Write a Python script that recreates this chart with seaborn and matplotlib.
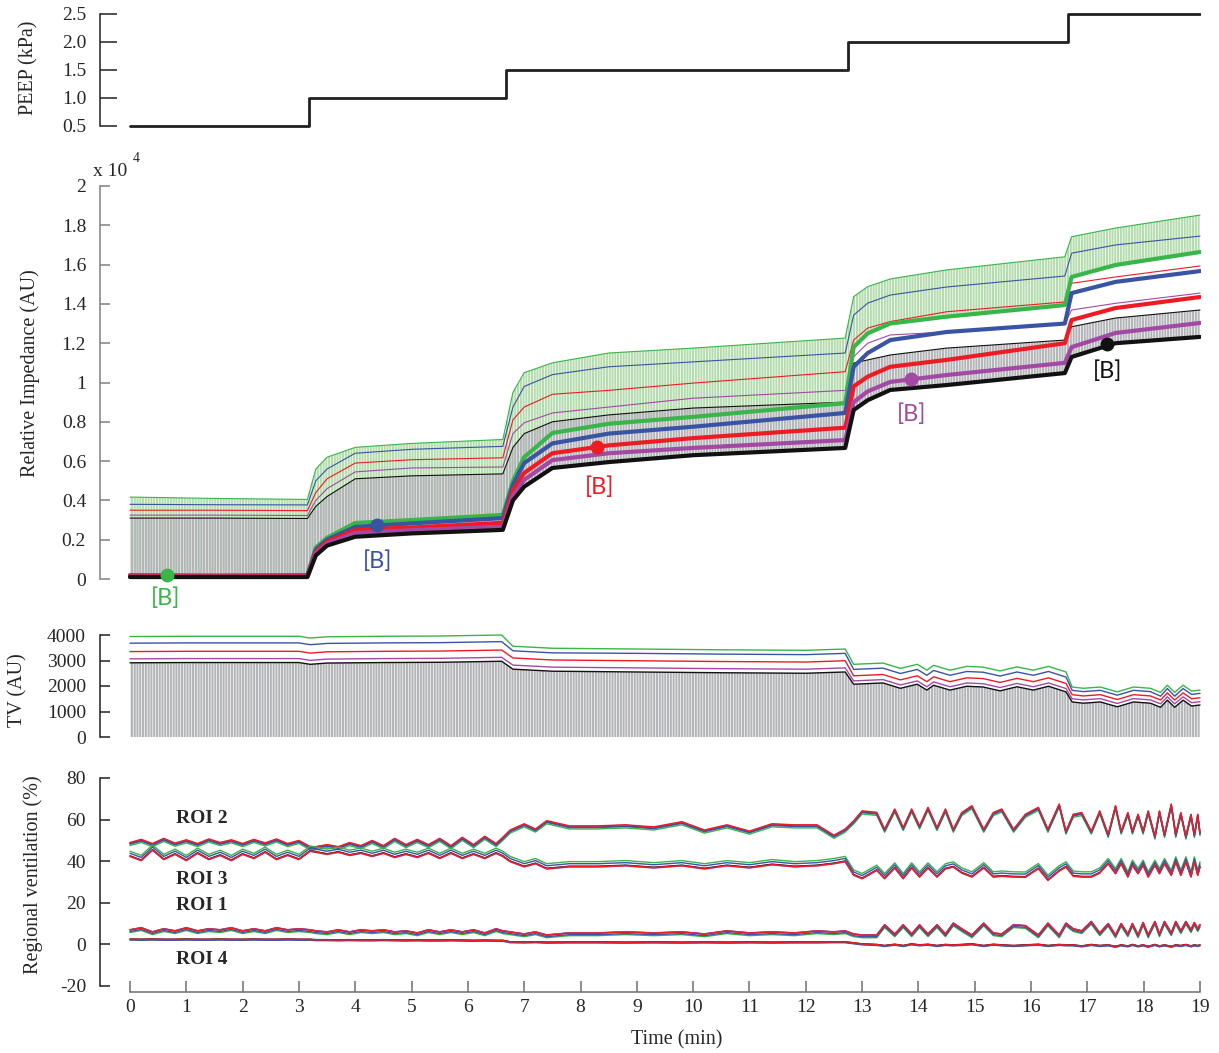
import matplotlib
matplotlib.use("Agg")
import matplotlib.pyplot as plt
import numpy as np
import seaborn as sns

# ---------------- DATA ----------------
# PEEP steps (kPa)
peep_t = [0, 3.18, 6.68, 12.75, 16.66, 19]
peep_v = [0.5, 1.0, 1.5, 2.0, 2.5, 2.5]

# Relative impedance (x 10^4 AU) -- thin = end-inspiratory, thick = end-expiratory
t_imp = [0, 1.5, 3.15, 3.3, 3.5, 4, 5, 6.62, 6.8, 7.0, 7.5, 8.5, 10, 12.7, 12.85, 13.1, 13.5, 14.5, 16.6, 16.72, 17.5, 19]
green_thin = [.417, .410, .405, .56, .62, .67, .69, .71, .95, 1.05, 1.10, 1.15, 1.175, 1.226, 1.437, 1.488, 1.527, 1.573, 1.64, 1.742, 1.786, 1.852]
blue_thin = [.380, .378, .377, .50, .56, .64, .66, .675, .875, .98, 1.04, 1.08, 1.105, 1.15, 1.343, 1.404, 1.445, 1.486, 1.542, 1.658, 1.70, 1.745]
red_thin = [.350, .350, .348, .44, .51, .59, .607, .617, .81, .875, .94, .96, .997, 1.055, 1.216, 1.277, 1.31, 1.36, 1.41, 1.505, 1.537, 1.593]
purple_thin = [.325, .325, .323, .40, .46, .545, .565, .57, .74, .795, .845, .875, .92, .96, 1.131, 1.20, 1.242, 1.257, 1.30, 1.369, 1.403, 1.455]
black_thin = [.310, .310, .308, .37, .42, .51, .525, .535, .67, .74, .80, .835, .87, .90, 1.099, 1.115, 1.14, 1.175, 1.216, 1.284, 1.328, 1.369]
green_thick = [.020, .018, .020, .16, .21, .285, .30, .326, .50, .62, .743, .79, .825, .895, 1.18, 1.25, 1.30, 1.335, 1.394, 1.537, 1.598, 1.664]
blue_thick = [.018, .016, .018, .15, .20, .265, .283, .31, .48, .59, .69, .74, .775, .845, 1.08, 1.15, 1.216, 1.257, 1.30, 1.455, 1.512, 1.567]
red_thick = [.015, .014, .015, .14, .19, .25, .262, .286, .45, .54, .64, .68, .717, .77, .98, 1.03, 1.08, 1.115, 1.20, 1.318, 1.379, 1.435]
purple_thick = [.012, .012, .012, .13, .18, .234, .248, .266, .42, .505, .605, .64, .667, .707, .90, .955, 1.003, 1.038, 1.10, 1.18, 1.252, 1.303]
black_thick = [.010, .010, .010, .12, .17, .215, .232, .25, .40, .47, .565, .595, .63, .667, .86, .91, .962, .987, 1.048, 1.13, 1.20, 1.232]

# [B] markers
b_times = [0.66, 4.39, 8.29, 13.87, 17.35]
b_values = [0.02, 0.275, 0.672, 1.018, 1.196]
b_label_t = [0.64, 4.39, 8.33, 13.87, 17.35]
b_label_v = [-0.097, 0.092, 0.468, 0.837, 1.058]

# Tidal volume (AU)
t_tv = [0, 1, 2, 3, 3.2, 3.5, 4.5, 5.5, 6.6, 6.8,
        7.5, 9, 10.5, 12, 12.7, 12.85, 13.37, 13.68, 13.98, 14.15,
        14.27, 14.56, 14.86, 15.15, 15.45, 15.75, 16.04, 16.31, 16.62, 16.73,
        16.93, 17.23, 17.53, 17.82, 18.12, 18.3, 18.42, 18.55, 18.7, 18.85, 19]
tv_green = [3940, 3950, 3950, 3950, 3880, 3930, 3950, 3960, 4000, 3560,
            3480, 3450, 3420, 3400, 3450, 2850, 2900, 2690, 2850, 2620,
            2810, 2620, 2770, 2740, 2590, 2750, 2620, 2770, 2550, 1960,
            1910, 1960, 1770, 1960, 1910, 1750, 2030, 1750, 2030, 1800, 1840]
tv_blue = [3680, 3690, 3690, 3690, 3620, 3670, 3690, 3700, 3740, 3380,
           3300, 3280, 3250, 3230, 3280, 2650, 2700, 2490, 2650, 2420,
           2610, 2420, 2570, 2540, 2390, 2550, 2420, 2570, 2350, 1830,
           1780, 1830, 1640, 1830, 1780, 1600, 1900, 1600, 1900, 1670, 1710]
tv_red = [3350, 3360, 3360, 3360, 3290, 3340, 3360, 3370, 3410, 3100,
          3020, 2990, 2960, 2940, 2990, 2400, 2450, 2240, 2400, 2170,
          2360, 2170, 2320, 2290, 2140, 2300, 2170, 2320, 2100, 1660,
          1610, 1660, 1470, 1660, 1610, 1450, 1730, 1450, 1730, 1500, 1540]
tv_purple = [3065, 3075, 3075, 3075, 3005, 3055, 3075, 3085, 3125, 2820,
             2740, 2710, 2680, 2660, 2710, 2200, 2250, 2040, 2200, 1970,
             2160, 1970, 2120, 2090, 1940, 2100, 1970, 2120, 1900, 1500,
             1455, 1505, 1315, 1505, 1455, 1300, 1575, 1300, 1575, 1345, 1385]
tv_black = [2910, 2920, 2920, 2920, 2850, 2900, 2920, 2930, 2970, 2660,
            2580, 2550, 2520, 2500, 2550, 2070, 2120, 1910, 2070, 1840,
            2030, 1840, 1990, 1960, 1810, 1970, 1840, 1990, 1770, 1375,
            1325, 1375, 1185, 1375, 1325, 1165, 1445, 1165, 1445, 1215, 1255]

# Regional ventilation (%)
t_roi = ([0, 0.2, 0.4, 0.6, 0.8, 1.0, 1.2, 1.4, 1.6, 1.8, 2.0, 2.2, 2.4, 2.6, 2.8, 3.0, 3.2]
         + [3.3, 3.5, 3.7, 3.9, 4.1, 4.3, 4.5, 4.7, 4.9, 5.1, 5.3, 5.5, 5.7, 5.9, 6.1, 6.3, 6.5, 6.62]
         + [6.75, 7.0, 7.2, 7.4, 7.8, 8.3, 8.8, 9.3, 9.8, 10.2, 10.6, 11.0, 11.4, 11.8, 12.2, 12.5, 12.7]
         + [12.85, 13.0, 13.26, 13.4, 13.58, 13.73, 13.88, 14.02, 14.17, 14.33, 14.48, 14.62, 14.77, 14.95,
            15.16, 15.33, 15.48, 15.69, 15.9, 16.13, 16.3, 16.5, 16.62]
         + [16.75, 16.9, 17.07, 17.22, 17.37, 17.5, 17.6, 17.72, 17.8, 17.9, 17.99, 18.08, 18.2, 18.28,
            18.37, 18.49, 18.57, 18.66, 18.75, 18.84, 18.9, 18.96, 19.0])
roi2 = ([48.5, 50.0, 48.0, 50.5, 48.2, 49.8, 48.0, 50.2, 48.5, 49.8, 48.0, 50.0, 48.3, 50.2, 48.0, 49.5, 46.5]
        + [46.5, 47.5, 46.5, 48.5, 47.0, 49.5, 47.0, 50.5, 47.5, 50.0, 47.5, 50.5, 47.0, 51.0, 47.5, 51.5, 48.0, 51.0]
        + [54.5, 57.5, 55.0, 59.0, 56.5, 56.5, 57.0, 56.0, 58.5, 54.5, 57.0, 54.0, 57.5, 57.0, 57.0, 52.0, 55.0]
        + [58.9, 63.7, 63.0, 54.9, 64.6, 55.7, 64.6, 56.5, 65.4, 55.7, 64.6, 54.9, 62.9, 66.2,
           54.9, 62.9, 64.6, 54.9, 62.1, 65.4, 54.9, 67.0, 54.0]
        + [62.1, 62.9, 54.0, 63.7, 52.4, 66.2, 54.0, 62.9, 54.0, 62.1, 54.0, 63.7, 51.6, 63.7,
           52.4, 67.0, 52.4, 62.9, 51.6, 62.1, 52.4, 62.1, 53.3])
roi3 = ([43.0, 41.0, 46.0, 41.5, 44.0, 41.0, 44.5, 41.5, 43.5, 41.0, 44.0, 42.0, 45.0, 41.5, 43.5, 41.5, 45.5]
        + [45.0, 44.0, 45.0, 43.5, 44.5, 43.0, 44.5, 42.5, 44.0, 42.5, 44.5, 42.0, 44.5, 42.0, 44.0, 42.0, 44.5, 43.0]
        + [40.5, 38.0, 39.5, 37.0, 38.0, 38.0, 38.5, 37.5, 38.5, 37.0, 38.5, 37.5, 39.0, 38.0, 38.5, 39.5, 40.5]
        + [34.0, 32.3, 36.3, 32.3, 37.4, 32.3, 37.4, 33.1, 37.4, 33.1, 37.0, 37.9, 35.0, 33.1,
           37.5, 33.1, 33.5, 33.1, 33.0, 37.1, 31.5, 36.0, 37.9]
        + [33.5, 33.1, 33.1, 35.0, 39.5, 34.7, 39.5, 33.1, 38.7, 34.7, 38.7, 33.1, 38.7, 34.7,
           39.5, 33.9, 40.3, 33.9, 40.3, 33.1, 40.3, 33.9, 37.9])
roi1 = ([6.5, 7.5, 5.5, 7.0, 6.0, 7.5, 6.0, 7.0, 6.5, 7.5, 6.0, 7.0, 6.0, 7.5, 6.5, 7.0, 6.5]
        + [6.0, 5.5, 6.5, 5.5, 6.5, 6.0, 6.5, 5.5, 6.0, 5.0, 6.5, 5.5, 6.5, 5.5, 6.5, 5.0, 7.0, 6.0]
        + [5.5, 4.5, 5.5, 4.0, 5.0, 5.0, 5.5, 5.0, 5.5, 4.5, 6.0, 5.0, 5.5, 5.0, 6.0, 5.5, 6.0]
        + [4.5, 4.0, 4.0, 8.9, 4.5, 8.9, 4.5, 8.9, 4.5, 8.9, 4.5, 9.7, 7.0, 4.0,
           9.7, 5.0, 4.5, 8.9, 8.5, 4.0, 9.7, 4.0, 9.7]
        + [7.0, 6.0, 10.5, 5.0, 9.5, 4.0, 9.5, 4.5, 9.5, 4.0, 10.0, 4.0, 10.5, 4.5,
           10.5, 5.0, 10.5, 6.0, 10.5, 6.5, 10.0, 7.0, 9.0])
roi4 = ([2.3, 2.2, 2.3, 2.2, 2.2, 2.3, 2.2, 2.2, 2.3, 2.2, 2.2, 2.3, 2.2, 2.2, 2.3, 2.2, 2.2]
        + [2.0, 2.0, 1.9, 2.0, 1.9, 1.9, 2.0, 1.9, 1.8, 1.9, 1.8, 1.8, 1.9, 1.8, 1.7, 1.8, 1.7, 1.7]
        + [1.0, 0.9, 1.0, 0.8, 0.9, 0.9, 0.8, 0.9, 0.8, 0.9, 0.8, 0.9, 0.8, 0.9, 0.9, 1.0, 1.0]
        + [0.5, 0.0, -0.3, -0.8, -0.2, -0.8, 0.0, -0.5, -0.2, -0.8, -0.3, -0.5, -0.3, 0.0,
           -0.8, -0.2, -0.5, -0.8, -0.5, -0.2, -0.8, -0.3, -0.5]
        + [-0.5, -1.0, -0.3, -0.8, -0.5, -1.2, -0.5, -1.0, -0.3, -1.0, -0.5, -1.2, -0.3, -1.0,
           -0.5, -1.2, -0.5, -0.8, -0.3, -1.0, -0.5, -0.8, -0.5])
# per-colour shift of each ROI trace (green, blue, red, purple, black)
roi_offsets = {
    "roi2": [-1.0, -0.3, 0.5, 0.3, 0.0],
    "roi3": [1.8, 0.8, -0.6, -0.8, -0.4],
    "roi1": [-0.8, -0.3, 0.4, 0.6, 0.5],
    "roi4": [0.1, -0.2, 0.2, 0.0, 0.3],
}
roi_names = ["ROI 2", "ROI 3", "ROI 1", "ROI 4"]
roi_label_t = [1.27, 1.27, 1.27, 1.27]
roi_label_v = [60.3, 31.3, 18.9, -7.5]

time_ticks = list(range(0, 20))

for arr in [green_thin, blue_thin, red_thin, purple_thin, black_thin,
            green_thick, blue_thick, red_thick, purple_thick, black_thick]:
    assert len(arr) == len(t_imp)
for arr in [tv_green, tv_blue, tv_red, tv_purple, tv_black]:
    assert len(arr) == len(t_tv)
for arr in [roi1, roi2, roi3, roi4]:
    assert len(arr) == len(t_roi), (len(arr), len(t_roi))

# ---------------- STYLE ----------------
sns.set_theme(style="white")
plt.rcParams["font.family"] = ["Liberation Serif", "DejaVu Serif"]
plt.rcParams["hatch.linewidth"] = 1.5
plt.rcParams["axes.unicode_minus"] = False

GREEN = "#39b54a"
BLUE = "#3a54a4"
RED = "#ed1c24"
PURPLE = "#a349a4"
BLACK = "#111111"
LGREEN = "#b4dcae"
GRAY = "#b4b5b8"
COLS = [GREEN, BLUE, RED, PURPLE, BLACK]

W, H = 1219, 1053
fig = plt.figure(figsize=(W / 100, H / 100), dpi=100)

PX_PER_MIN = (1200 - 130) / 19.0
XLIM = (-(130 - 100) / PX_PER_MIN, 19 + 1 / PX_PER_MIN)


def add_axes(top, bottom):
    return fig.add_axes([100 / W, 1 - bottom / H, 1101 / W, (bottom - top) / H])


def ylim_from(top, bottom, v1, p1, v2, p2):
    k = (v1 - v2) / (p2 - p1)
    return (v1 - (bottom - p1) * k, v1 - (top - p1) * k)


def style_axes(ax, ylim, yticks, ylabels, spine_color, ticklen, bounds):
    ax.set_xlim(*XLIM)
    ax.set_ylim(*ylim)
    for s in ["top", "right", "bottom"]:
        ax.spines[s].set_visible(False)
    ax.spines["left"].set_color(spine_color)
    ax.spines["left"].set_linewidth(1.1)
    ax.spines["left"].set_bounds(*bounds)
    ax.set_yticks(yticks)
    ax.set_yticklabels(ylabels)
    ax.tick_params(axis="y", direction="in", length=ticklen, width=1.1,
                   color=spine_color, pad=10, labelsize=14, left=True)
    ax.set_facecolor("none")
    ax.grid(False)


def line(ax, x, y, color, lw, z=3):
    sns.lineplot(x=x, y=y, ax=ax, color=color, linewidth=lw, legend=False,
                 estimator=None, sort=False, zorder=z)


# ---- PEEP panel
ax0 = add_axes(6, 134)
sns.lineplot(x=peep_t, y=peep_v, ax=ax0, color="#231f20", linewidth=2.0,
             drawstyle="steps-post", legend=False, estimator=None, sort=False)
style_axes(ax0, ylim_from(6, 134, 2.5, 14, 0.5, 126), [0.5, 1.0, 1.5, 2.0, 2.5],
           ["0.5", "1.0", "1.5", "2.0", "2.5"], "#231f20", 12, (0.5, 2.5))
ax0.set_xticks([])
ax0.set_xlabel("")
ax0.set_ylabel("")

# ---- Impedance panel
ax1 = add_axes(180, 592)
ax1.fill_between(t_imp, green_thick, green_thin, facecolor="none", edgecolor=LGREEN,
                 hatch="||||||", linewidth=0, zorder=1)
ax1.fill_between(t_imp, black_thick, black_thin, facecolor="none", edgecolor=GRAY,
                 hatch="||||||", linewidth=0, zorder=1.5)
for arr, c in zip([green_thin, blue_thin, red_thin, purple_thin, black_thin], COLS):
    line(ax1, t_imp, arr, c, 0.8, 3)
for arr, c in zip([green_thick, blue_thick, red_thick, purple_thick, black_thick], COLS):
    line(ax1, t_imp, arr, c, 3.0, 4)
for bt, bv, lt, lv, c in zip(b_times, b_values, b_label_t, b_label_v, COLS):
    ax1.plot([bt], [bv], "o", color=c, markersize=9, zorder=6)
    ax1.text(lt, lv, "[B]", color=c, fontsize=17, family=["Lato", "DejaVu Sans"],
             ha="center", va="center", zorder=6)
imp_ticks = [0, 0.2, 0.4, 0.6, 0.8, 1.0, 1.2, 1.4, 1.6, 1.8, 2.0]
imp_labels = ["0", "0.2", "0.4", "0.6", "0.8", "1", "1.2", "1.4", "1.6", "1.8", "2"]
style_axes(ax1, ylim_from(180, 592, 2.0, 186, 0.0, 579), imp_ticks, imp_labels,
           "#808080", 7, (0, 2))
ax1.set_xticks([])
ax1.set_xlabel("")
ax1.set_ylabel("")

# ---- TV panel
ax2 = add_axes(628, 745)
ax2.fill_between(t_tv, [0] * len(t_tv), tv_black, facecolor="none", edgecolor=GRAY,
                 hatch="||||||", linewidth=0, zorder=1)
for arr, c in zip([tv_green, tv_blue, tv_red, tv_purple, tv_black], COLS):
    line(ax2, t_tv, arr, c, 1.0, 3)
style_axes(ax2, ylim_from(628, 745, 4000, 635, 0, 737), [0, 1000, 2000, 3000, 4000],
           ["0", "1000", "2000", "3000", "4000"], "#231f20", 7, (0, 4000))
ax2.set_xticks([])
ax2.set_xlabel("")
ax2.set_ylabel("")

# ---- Regional ventilation panel
ax3 = add_axes(770, 992)
draw_order = [0, 4, 3, 1, 2]  # green, black, purple, blue, red
for key, arr in [("roi2", roi2), ("roi3", roi3), ("roi1", roi1), ("roi4", roi4)]:
    for ci in draw_order:
        off = roi_offsets[key][ci]
        line(ax3, t_roi, [v + off for v in arr], COLS[ci], 1.0, 3)
for name, lt, lv in zip(roi_names, roi_label_t, roi_label_v):
    ax3.text(lt, lv, name, fontsize=14, fontweight="bold", ha="center", va="center")
style_axes(ax3, ylim_from(770, 992, 80, 778, -20, 986), [-20, 0, 20, 40, 60, 80],
           ["-20", "0", "20", "40", "60", "80"], "#231f20", 7, (-20, 80))
ax3.spines["bottom"].set_visible(True)
ax3.spines["bottom"].set_color("#6d6e71")
ax3.spines["bottom"].set_linewidth(1.1)
ax3.spines["bottom"].set_bounds(0, 19)
ax3.set_xticks(time_ticks)
ax3.set_xticklabels([str(v) for v in time_ticks])
ax3.tick_params(axis="x", direction="in", length=8, width=1.1, color="#6d6e71",
                pad=5, labelsize=14, bottom=True)
ax3.set_xlabel("")
ax3.set_ylabel("")

# ---- axis titles
fig.text(29 / W, 1 - 68 / H, "PEEP (kPa)", rotation=90, ha="center", va="center", fontsize=14.5)
fig.text(30 / W, 1 - 373 / H, "Relative Impedance (AU)", rotation=90, ha="center", va="center", fontsize=14.5)
fig.text(18 / W, 1 - 690 / H, "TV (AU)", rotation=90, ha="center", va="center", fontsize=14.5)
fig.text(33 / W, 1 - 875 / H, "Regional ventilation (%)", rotation=90, ha="center", va="center", fontsize=14.5)
fig.text(677 / W, 1 - 1040 / H, "Time (min)", ha="center", va="center", fontsize=14.5)
fig.text(93 / W, 1 - 171 / H, "x 10", ha="left", va="center", fontsize=14)
fig.text(133 / W, 1 - 158 / H, "4", ha="left", va="center", fontsize=10)

fig.savefig("out.png", dpi=100, facecolor="white")
